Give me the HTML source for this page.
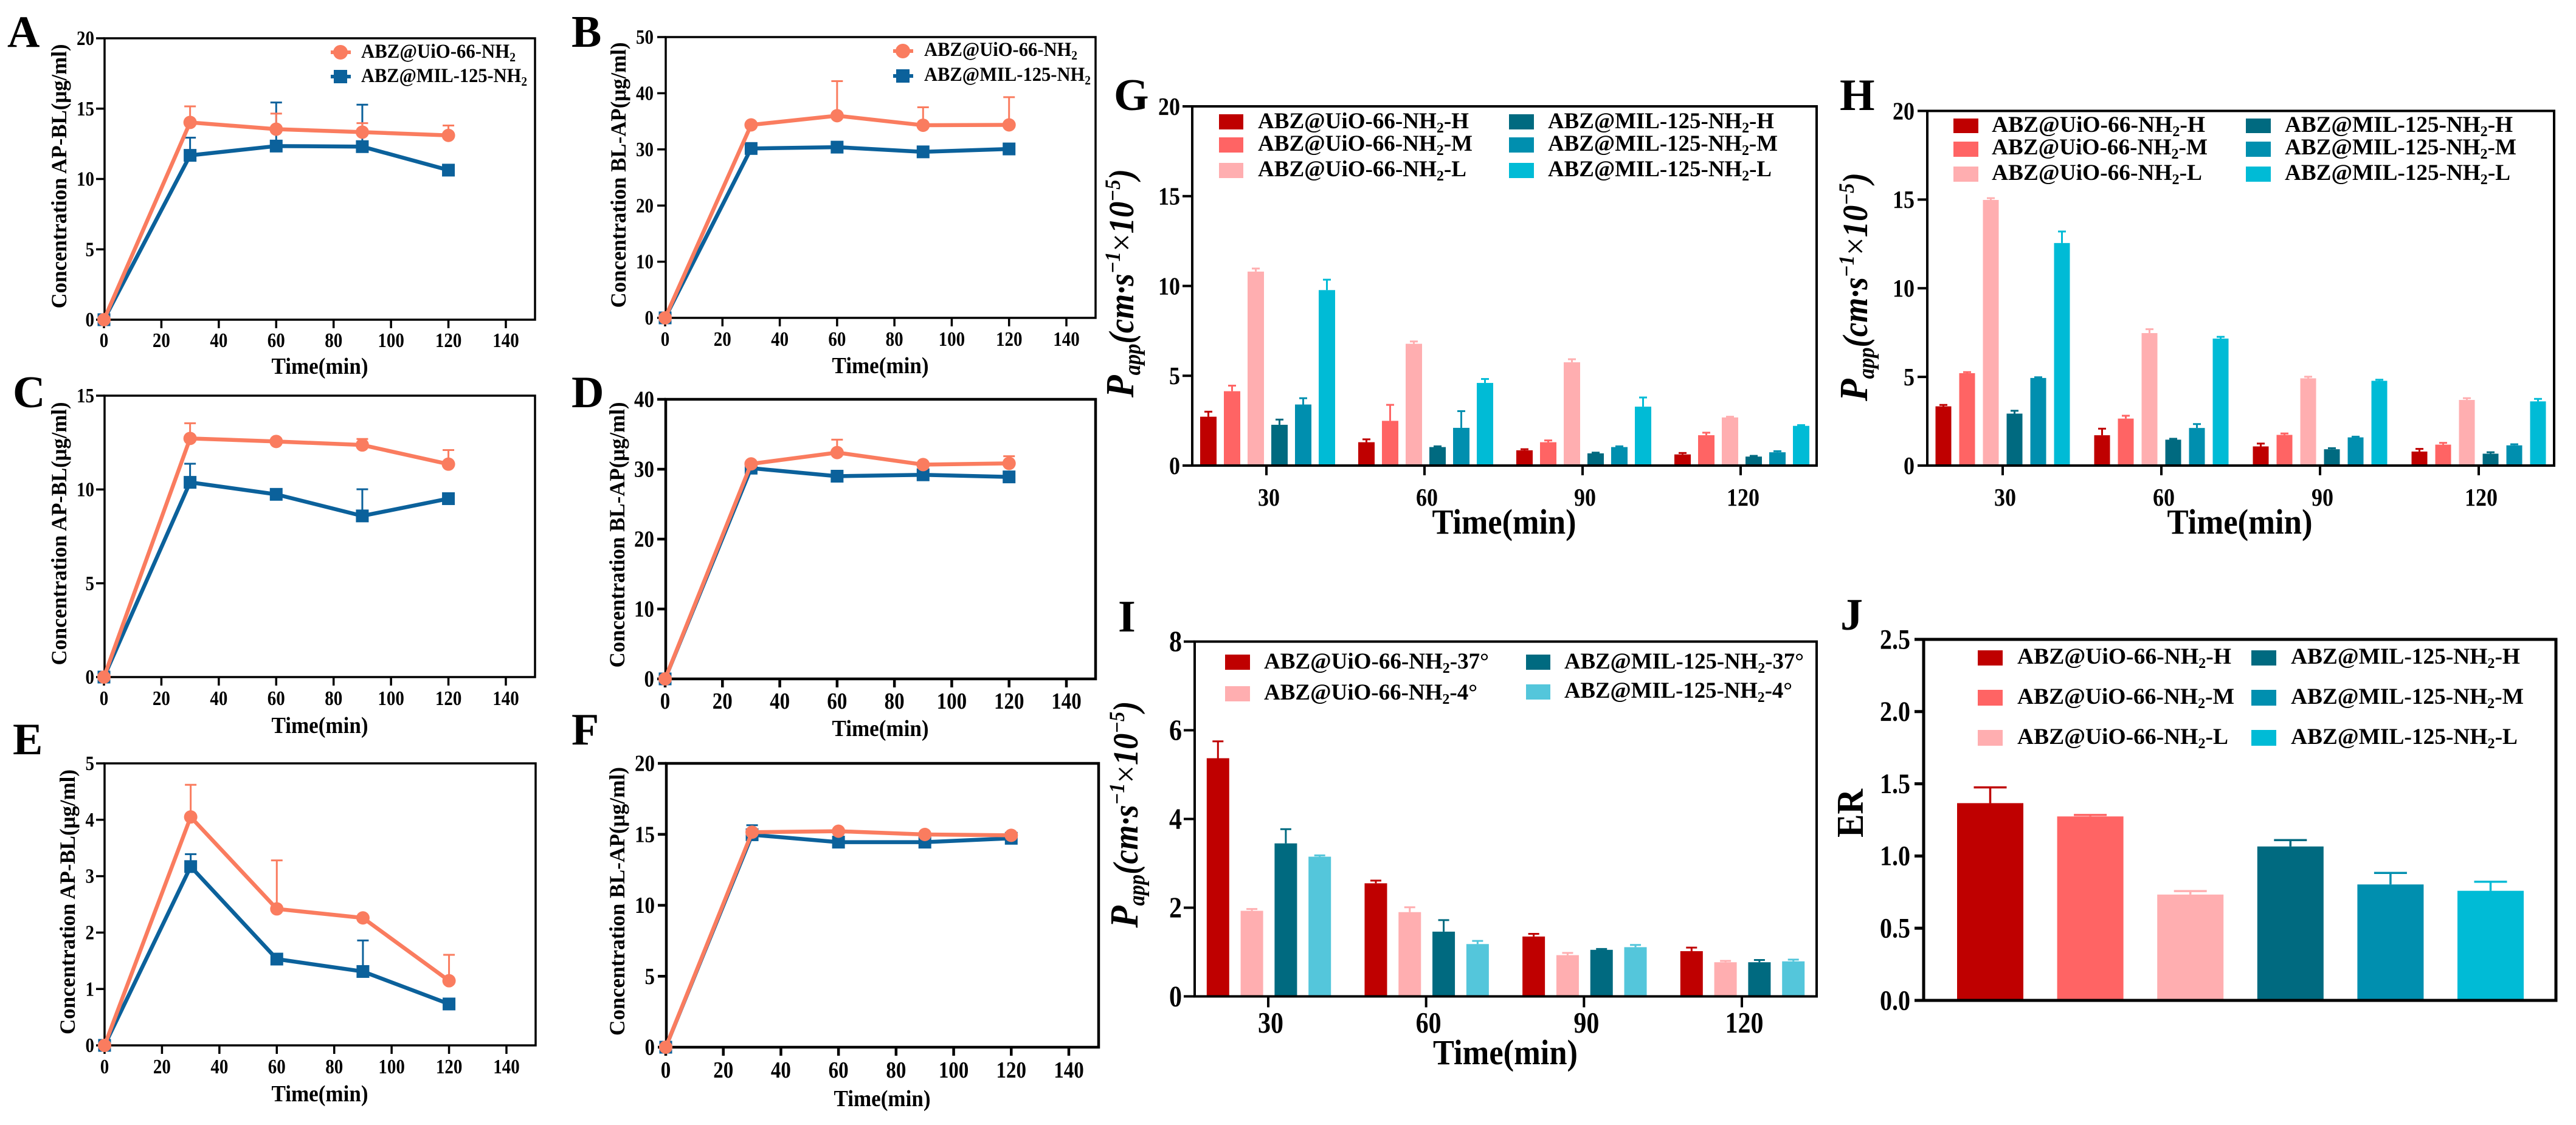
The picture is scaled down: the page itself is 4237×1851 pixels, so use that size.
<!DOCTYPE html>
<html lang="en">
<head>
<meta charset="utf-8">
<title>ABZ@UiO-66-NH2 and ABZ@MIL-125-NH2 transport charts</title>
<style>
html,body{margin:0;padding:0;background:#fff;}
svg{display:block;}
text{font-family:"Liberation Serif",serif;font-weight:bold;fill:#000;}
.it{font-style:italic;}
</style>
</head>
<body>
<svg id="figure" xmlns="http://www.w3.org/2000/svg" width="4237" height="1851" viewBox="0 0 4237 1851">
<rect x="0" y="0" width="4237" height="1851" fill="#fff"/>

<text x="12" y="77" font-size="74">A</text>
<text x="940" y="77" font-size="74">B</text>
<text x="21" y="670" font-size="74">C</text>
<text x="940" y="670" font-size="74">D</text>
<text x="21" y="1241" font-size="74">E</text>
<text x="940" y="1225" font-size="74">F</text>
<text x="1832" y="181" font-size="74">G</text>
<text x="3026" y="181" font-size="74">H</text>
<text x="1839" y="1039" font-size="74">I</text>
<text x="3027" y="1036" font-size="74">J</text>

<g id="panel-a"></g>
<g id="panel-b"></g>
<g id="panel-c"></g>
<g id="panel-d"></g>
<g id="panel-e"></g>
<g id="panel-f"></g>
<g id="panel-g"></g>
<g id="panel-h"></g>
<g id="panel-i"></g>
<g id="panel-j"></g>

<!-- axis titles: line panels -->
<text transform="translate(109,290) rotate(-90)" text-anchor="middle" font-size="36" textLength="435" lengthAdjust="spacingAndGlyphs">Concentration AP-BL(μg/ml)</text>
<text transform="translate(1029,288) rotate(-90)" text-anchor="middle" font-size="36" textLength="437" lengthAdjust="spacingAndGlyphs">Concentration BL-AP(μg/ml)</text>
<text transform="translate(109,878) rotate(-90)" text-anchor="middle" font-size="36" textLength="433" lengthAdjust="spacingAndGlyphs">Concentration AP-BL(μg/ml)</text>
<text transform="translate(1027,880) rotate(-90)" text-anchor="middle" font-size="36" textLength="437" lengthAdjust="spacingAndGlyphs">Concentration BL-AP(μg/ml)</text>
<text transform="translate(123,1484) rotate(-90)" text-anchor="middle" font-size="36" textLength="436" lengthAdjust="spacingAndGlyphs">Concentration AP-BL(μg/ml)</text>
<text transform="translate(1027,1483) rotate(-90)" text-anchor="middle" font-size="36" textLength="442" lengthAdjust="spacingAndGlyphs">Concentration BL-AP(μg/ml)</text>

<text x="526" y="615" text-anchor="middle" font-size="38" textLength="159" lengthAdjust="spacingAndGlyphs">Time(min)</text>
<text x="1448" y="614" text-anchor="middle" font-size="38" textLength="159" lengthAdjust="spacingAndGlyphs">Time(min)</text>
<text x="526" y="1206" text-anchor="middle" font-size="38" textLength="159" lengthAdjust="spacingAndGlyphs">Time(min)</text>
<text x="1448" y="1211" text-anchor="middle" font-size="38" textLength="159" lengthAdjust="spacingAndGlyphs">Time(min)</text>
<text x="526" y="1812" text-anchor="middle" font-size="38" textLength="159" lengthAdjust="spacingAndGlyphs">Time(min)</text>
<text x="1451" y="1820" text-anchor="middle" font-size="38" textLength="159" lengthAdjust="spacingAndGlyphs">Time(min)</text>

<!-- axis titles: bar panels -->
<text x="2474" y="878" text-anchor="middle" font-size="58" textLength="237" lengthAdjust="spacingAndGlyphs">Time(min)</text>
<text x="3684" y="878" text-anchor="middle" font-size="58" textLength="239" lengthAdjust="spacingAndGlyphs">Time(min)</text>
<text x="2476" y="1751" text-anchor="middle" font-size="58" textLength="238" lengthAdjust="spacingAndGlyphs">Time(min)</text>
<text transform="translate(3064,1338) rotate(-90)" text-anchor="middle" font-size="62" textLength="80" lengthAdjust="spacingAndGlyphs">ER</text>

<text class="it" transform="translate(1864,466) rotate(-90)" text-anchor="middle" font-size="58" textLength="376" lengthAdjust="spacingAndGlyphs"><tspan font-size="66">P</tspan><tspan font-size="38" dy="11">app</tspan><tspan dy="-11">(cm·s</tspan><tspan font-size="36" dy="-22">−1</tspan><tspan dy="22" style="font-style:normal;font-weight:normal">×</tspan><tspan>10</tspan><tspan font-size="36" dy="-22">−5</tspan><tspan dy="22">)</tspan></text>
<text class="it" transform="translate(3071,472) rotate(-90)" text-anchor="middle" font-size="58" textLength="376" lengthAdjust="spacingAndGlyphs"><tspan font-size="66">P</tspan><tspan font-size="38" dy="11">app</tspan><tspan dy="-11">(cm·s</tspan><tspan font-size="36" dy="-22">−1</tspan><tspan dy="22" style="font-style:normal;font-weight:normal">×</tspan><tspan>10</tspan><tspan font-size="36" dy="-22">−5</tspan><tspan dy="22">)</tspan></text>
<text class="it" transform="translate(1871,1340) rotate(-90)" text-anchor="middle" font-size="58" textLength="373" lengthAdjust="spacingAndGlyphs"><tspan font-size="66">P</tspan><tspan font-size="38" dy="11">app</tspan><tspan dy="-11">(cm·s</tspan><tspan font-size="36" dy="-22">−1</tspan><tspan dy="22" style="font-style:normal;font-weight:normal">×</tspan><tspan>10</tspan><tspan font-size="36" dy="-22">−5</tspan><tspan dy="22">)</tspan></text>

<!-- legends: line panels -->
<g>
  <line x1="544" x2="577" y1="86" y2="86" stroke="#FA7C5F" stroke-width="6"/>
  <circle cx="560" cy="86" r="12" fill="#FA7C5F"/>
  <text x="594" y="95" font-size="33" textLength="254" lengthAdjust="spacingAndGlyphs">ABZ@UiO-66-NH<tspan font-size="21" dy="6">2</tspan></text>
  <line x1="544" x2="577" y1="126" y2="126" stroke="#0B619B" stroke-width="6"/>
  <rect x="549" y="115" width="22" height="22" fill="#0B619B"/>
  <text x="594" y="135" font-size="33" textLength="273" lengthAdjust="spacingAndGlyphs">ABZ@MIL-125-NH<tspan font-size="21" dy="6">2</tspan></text>
</g>
<g>
  <line x1="1469" x2="1502" y1="84" y2="84" stroke="#FA7C5F" stroke-width="6"/>
  <circle cx="1485" cy="84" r="12" fill="#FA7C5F"/>
  <text x="1520" y="92" font-size="33" textLength="252" lengthAdjust="spacingAndGlyphs">ABZ@UiO-66-NH<tspan font-size="21" dy="6">2</tspan></text>
  <line x1="1469" x2="1502" y1="125" y2="125" stroke="#0B619B" stroke-width="6"/>
  <rect x="1474" y="114" width="22" height="22" fill="#0B619B"/>
  <text x="1520" y="133" font-size="33" textLength="274" lengthAdjust="spacingAndGlyphs">ABZ@MIL-125-NH<tspan font-size="21" dy="6">2</tspan></text>
</g>

<!-- legend: panel G -->
<g>
  <rect x="2005" y="188" width="40" height="25" fill="#BF0000"/>
  <text x="2069" y="211" font-size="37" textLength="347" lengthAdjust="spacingAndGlyphs">ABZ@UiO-66-NH<tspan font-size="24" dy="7">2</tspan><tspan dy="-7">-H</tspan></text>
  <rect x="2005" y="226" width="40" height="25" fill="#FF6464"/>
  <text x="2069" y="248" font-size="37" textLength="353" lengthAdjust="spacingAndGlyphs">ABZ@UiO-66-NH<tspan font-size="24" dy="7">2</tspan><tspan dy="-7">-M</tspan></text>
  <rect x="2005" y="268" width="40" height="25" fill="#FFAEB0"/>
  <text x="2069" y="290" font-size="37" textLength="343" lengthAdjust="spacingAndGlyphs">ABZ@UiO-66-NH<tspan font-size="24" dy="7">2</tspan><tspan dy="-7">-L</tspan></text>
  <rect x="2482" y="188" width="41" height="25" fill="#006A80"/>
  <text x="2546" y="211" font-size="37" textLength="372" lengthAdjust="spacingAndGlyphs">ABZ@MIL-125-NH<tspan font-size="24" dy="7">2</tspan><tspan dy="-7">-H</tspan></text>
  <rect x="2482" y="226" width="41" height="25" fill="#008FAF"/>
  <text x="2546" y="248" font-size="37" textLength="378" lengthAdjust="spacingAndGlyphs">ABZ@MIL-125-NH<tspan font-size="24" dy="7">2</tspan><tspan dy="-7">-M</tspan></text>
  <rect x="2482" y="268" width="41" height="25" fill="#00BBD6"/>
  <text x="2546" y="290" font-size="37" textLength="368" lengthAdjust="spacingAndGlyphs">ABZ@MIL-125-NH<tspan font-size="24" dy="7">2</tspan><tspan dy="-7">-L</tspan></text>
</g>

<!-- legend: panel H -->
<g>
  <rect x="3213" y="195" width="41" height="24" fill="#BF0000"/>
  <text x="3276" y="217" font-size="37" textLength="351" lengthAdjust="spacingAndGlyphs">ABZ@UiO-66-NH<tspan font-size="24" dy="7">2</tspan><tspan dy="-7">-H</tspan></text>
  <rect x="3213" y="233" width="41" height="25" fill="#FF6464"/>
  <text x="3276" y="254" font-size="37" textLength="355" lengthAdjust="spacingAndGlyphs">ABZ@UiO-66-NH<tspan font-size="24" dy="7">2</tspan><tspan dy="-7">-M</tspan></text>
  <rect x="3213" y="274" width="41" height="25" fill="#FFAEB0"/>
  <text x="3276" y="296" font-size="37" textLength="346" lengthAdjust="spacingAndGlyphs">ABZ@UiO-66-NH<tspan font-size="24" dy="7">2</tspan><tspan dy="-7">-L</tspan></text>
  <rect x="3694" y="195" width="41" height="24" fill="#006A80"/>
  <text x="3758" y="217" font-size="37" textLength="375" lengthAdjust="spacingAndGlyphs">ABZ@MIL-125-NH<tspan font-size="24" dy="7">2</tspan><tspan dy="-7">-H</tspan></text>
  <rect x="3694" y="233" width="41" height="25" fill="#008FAF"/>
  <text x="3758" y="254" font-size="37" textLength="381" lengthAdjust="spacingAndGlyphs">ABZ@MIL-125-NH<tspan font-size="24" dy="7">2</tspan><tspan dy="-7">-M</tspan></text>
  <rect x="3694" y="274" width="41" height="25" fill="#00BBD6"/>
  <text x="3758" y="296" font-size="37" textLength="371" lengthAdjust="spacingAndGlyphs">ABZ@MIL-125-NH<tspan font-size="24" dy="7">2</tspan><tspan dy="-7">-L</tspan></text>
</g>

<!-- legend: panel I -->
<g>
  <rect x="2015" y="1077" width="41" height="25" fill="#BF0000"/>
  <text x="2079" y="1100" font-size="37" textLength="370" lengthAdjust="spacingAndGlyphs">ABZ@UiO-66-NH<tspan font-size="24" dy="7">2</tspan><tspan dy="-7">-37°</tspan></text>
  <rect x="2015" y="1129" width="41" height="25" fill="#FFAEB0"/>
  <text x="2079" y="1151" font-size="37" textLength="351" lengthAdjust="spacingAndGlyphs">ABZ@UiO-66-NH<tspan font-size="24" dy="7">2</tspan><tspan dy="-7">-4°</tspan></text>
  <rect x="2510" y="1077" width="40" height="25" fill="#006A80"/>
  <text x="2573" y="1100" font-size="37" textLength="394" lengthAdjust="spacingAndGlyphs">ABZ@MIL-125-NH<tspan font-size="24" dy="7">2</tspan><tspan dy="-7">-37°</tspan></text>
  <rect x="2510" y="1126" width="40" height="25" fill="#54C6DB"/>
  <text x="2573" y="1148" font-size="37" textLength="375" lengthAdjust="spacingAndGlyphs">ABZ@MIL-125-NH<tspan font-size="24" dy="7">2</tspan><tspan dy="-7">-4°</tspan></text>
</g>

<!-- legend: panel J -->
<g>
  <rect x="3253" y="1070" width="41" height="25" fill="#BF0000"/>
  <text x="3318" y="1092" font-size="37" textLength="352" lengthAdjust="spacingAndGlyphs">ABZ@UiO-66-NH<tspan font-size="24" dy="7">2</tspan><tspan dy="-7">-H</tspan></text>
  <rect x="3253" y="1135" width="41" height="26" fill="#FF6464"/>
  <text x="3318" y="1158" font-size="37" textLength="357" lengthAdjust="spacingAndGlyphs">ABZ@UiO-66-NH<tspan font-size="24" dy="7">2</tspan><tspan dy="-7">-M</tspan></text>
  <rect x="3253" y="1201" width="41" height="26" fill="#FFAEB0"/>
  <text x="3318" y="1224" font-size="37" textLength="347" lengthAdjust="spacingAndGlyphs">ABZ@UiO-66-NH<tspan font-size="24" dy="7">2</tspan><tspan dy="-7">-L</tspan></text>
  <rect x="3703" y="1070" width="41" height="25" fill="#006A80"/>
  <text x="3768" y="1092" font-size="37" textLength="377" lengthAdjust="spacingAndGlyphs">ABZ@MIL-125-NH<tspan font-size="24" dy="7">2</tspan><tspan dy="-7">-H</tspan></text>
  <rect x="3703" y="1135" width="41" height="26" fill="#008FAF"/>
  <text x="3768" y="1158" font-size="37" textLength="383" lengthAdjust="spacingAndGlyphs">ABZ@MIL-125-NH<tspan font-size="24" dy="7">2</tspan><tspan dy="-7">-M</tspan></text>
  <rect x="3703" y="1201" width="41" height="26" fill="#00BBD6"/>
  <text x="3768" y="1224" font-size="37" textLength="373" lengthAdjust="spacingAndGlyphs">ABZ@MIL-125-NH<tspan font-size="24" dy="7">2</tspan><tspan dy="-7">-L</tspan></text>
</g>
</svg>

<script>
// ---------- shared axis values ----------
const lineTimes = [0, 30, 60, 90, 120];
const lineXTicks = [0, 20, 40, 60, 80, 100, 120, 140];
const barCategories = ['30', '60', '90', '120'];

// ---------- panel A ----------
const aYTicks = [0, 5, 10, 15, 20];
const aUio = [0, 14.02, 13.54, 13.33, 13.1];
const aUioErr = [0, 1.14, 1.11, 0.64, 0.7];
const aMil = [0, 11.68, 12.34, 12.3, 10.63];
const aMilErr = [0, 1.26, 3.1, 2.98, 0.05];
// ---------- panel B ----------
const bYTicks = [0, 10, 20, 30, 40, 50];
const bUio = [0, 34.36, 36, 34.3, 34.36];
const bUioErr = [0, 0.2, 6.16, 3.2, 4.94];
const bMil = [0, 30.16, 30.4, 29.56, 30.08];
const bMilErr = [0, 0.2, 0.2, 0.2, 0.2];
// ---------- panel C ----------
const cYTicks = [0, 5, 10, 15];
const cUio = [0, 12.72, 12.56, 12.37, 11.35];
const cUioErr = [0, 0.81, 0.14, 0.32, 0.75];
const cMil = [0, 10.38, 9.74, 8.59, 9.51];
const cMilErr = [0, 0.99, 0.16, 1.42, 0.09];
// ---------- panel D ----------
const dYTicks = [0, 10, 20, 30, 40];
const dUio = [0, 30.76, 32.38, 30.66, 30.83];
const dUioErr = [0, 0.24, 1.85, 0.14, 1.03];
const dMil = [0, 30.15, 29, 29.2, 28.9];
const dMilErr = [0, 0.15, 0.1, 0.2, 0.1];
// ---------- panel E ----------
const eYTicks = [0, 1, 2, 3, 4, 5];
const eUio = [0, 4.05, 2.42, 2.26, 1.146];
const eUioErr = [0, 0.57, 0.86, 0.04, 0.46];
const eMil = [0, 3.17, 1.53, 1.31, 0.734];
const eMilErr = [0, 0.22, 0.03, 0.55, 0.03];
// ---------- panel F ----------
const fYTicks = [0, 5, 10, 15, 20];
const fUio = [0, 15.15, 15.22, 14.99, 14.93];
const fUioErr = [0, 0.15, 0.08, 0.06, 0.07];
const fMil = [0, 14.97, 14.45, 14.45, 14.72];
const fMilErr = [0, 0.67, 0.05, 0.05, 0.08];

// ---------- panel G ----------
const gYTicks = [0, 5, 10, 15, 20];
const gUioH = [2.72, 1.3, 0.85, 0.62];
const gUioHErr = [0.28, 0.16, 0.06, 0.08];
const gUioM = [4.14, 2.49, 1.3, 1.69];
const gUioMErr = [0.31, 0.89, 0.1, 0.14];
const gUioL = [10.8, 6.78, 5.75, 2.68];
const gUioLErr = [0.17, 0.13, 0.17, 0.04];
const gMilH = [2.27, 1.03, 0.68, 0.5];
const gMilHErr = [0.29, 0.04, 0.04, 0.04];
const gMilM = [3.4, 2.1, 1.03, 0.74];
const gMilMErr = [0.35, 0.93, 0.04, 0.06];
const gMilL = [9.77, 4.6, 3.28, 2.21];
const gMilLErr = [0.58, 0.22, 0.51, 0.04];

// ---------- panel H ----------
const hYTicks = [0, 5, 10, 15, 20];
const hUioH = [3.34, 1.71, 1.08, 0.79];
const hUioHErr = [0.08, 0.37, 0.16, 0.15];
const hUioM = [5.21, 2.65, 1.73, 1.18];
const hUioMErr = [0.06, 0.16, 0.08, 0.1];
const hUioL = [14.98, 7.47, 4.92, 3.7];
const hUioLErr = [0.1, 0.22, 0.09, 0.1];
const hMilH = [2.93, 1.46, 0.92, 0.67];
const hMilHErr = [0.16, 0.05, 0.06, 0.08];
const hMilM = [4.94, 2.12, 1.59, 1.14];
const hMilMErr = [0.04, 0.22, 0.04, 0.06];
const hMilL = [12.55, 7.16, 4.78, 3.62];
const hMilLErr = [0.65, 0.1, 0.06, 0.14];

// ---------- panel I ----------
const iYTicks = [0, 2, 4, 6, 8];
const iUio37 = [5.37, 2.55, 1.35, 1.02];
const iUio37Err = [0.38, 0.06, 0.06, 0.08];
const iUio4 = [1.93, 1.9, 0.93, 0.77];
const iUio4Err = [0.04, 0.11, 0.05, 0.03];
const iMil37 = [3.45, 1.46, 1.05, 0.77];
const iMil37Err = [0.32, 0.26, 0.02, 0.05];
const iMil4 = [3.15, 1.18, 1.11, 0.79];
const iMil4Err = [0.03, 0.07, 0.05, 0.04];

// ---------- panel J ----------
const jYTicks = ['0.0', '0.5', '1.0', '1.5', '2.0', '2.5'];
const jGroups = ['UiO-H', 'UiO-M', 'UiO-L', 'MIL-H', 'MIL-M', 'MIL-L'];
const jValues = [1.366, 1.274, 0.733, 1.066, 0.803, 0.759];
const jErrors = [0.109, 0.01, 0.024, 0.044, 0.08, 0.063];

const NS = 'http://www.w3.org/2000/svg';
const UIO = '#FA7C5F';
const MIL = '#0B619B';
const SIX = ['#BF0000', '#FF6464', '#FFAEB0', '#006A80', '#008FAF', '#00BBD6'];
const FOUR = ['#BF0000', '#FFAEB0', '#006A80', '#54C6DB'];
const TALL = 1.16;

function svgEl(tag, attrs, parent) {
  const el = document.createElementNS(NS, tag);
  for (const k in attrs) el.setAttribute(k, attrs[k]);
  parent.appendChild(el);
  return el;
}

function linearScale(d0, d1, r0, r1) {
  return function (v) { return r0 + (v - d0) / (d1 - d0) * (r1 - r0); };
}

function labelWidth(label, font) {
  let em = 0;
  for (const ch of label) em += (ch === '.') ? 0.25 : 0.5;
  return em * font;
}

function drawFrame(g, b) {
  const frame = svgEl('rect', {x: b.left, y: b.top, width: b.right - b.left, height: b.bottom - b.top, fill: 'none', stroke: '#000', 'stroke-width': b.stroke}, g);
  
  
}

function drawYAxis(g, b, labels, yScale) {
  labels.forEach(function (lab) {
    const v = Number(lab);
    const y = yScale(v);
    const tick = svgEl('line', {x1: b.left - b.tick, x2: b.left, y1: y, y2: y, stroke: '#000', 'stroke-width': b.stroke}, g);
    
    
    const t = svgEl('text', {x: b.yLabelX, y: y + b.font * TALL * 0.33, 'text-anchor': 'end', 'font-size': b.font * TALL, textLength: labelWidth(lab, b.font), lengthAdjust: 'spacingAndGlyphs'}, g);
    t.textContent = lab;
    
    
  });
}

function drawXTick(g, b, x, label, labelDx) {
  const tick = svgEl('line', {x1: x, x2: x, y1: b.bottom, y2: b.bottom + b.tick, stroke: '#000', 'stroke-width': b.stroke}, g);
  
  
  const t = svgEl('text', {x: x + labelDx, y: b.xLabelY, 'text-anchor': 'middle', 'font-size': b.font * TALL, textLength: labelWidth(label, b.font), lengthAdjust: 'spacingAndGlyphs'}, g);
  t.textContent = label;
  
  
}

function drawErrorBar(g, x, yLow, yHigh, cap, color, width) {
  const stem = svgEl('line', {x1: x, x2: x, y1: yLow, y2: yHigh, stroke: color, 'stroke-width': width}, g);
  
  
  const top = svgEl('line', {x1: x - cap / 2, x2: x + cap / 2, y1: yHigh, y2: yHigh, stroke: color, 'stroke-width': width}, g);
  
  
}

function drawLineSeries(g, name, color, values, errors, xScale, yScale, marker) {
  const pts = values.map(function (v, i) { return xScale(lineTimes[i]) + ',' + yScale(v); }).join(' ');
  values.forEach(function (v, i) {
    if (i > 0) drawErrorBar(g, xScale(lineTimes[i]), yScale(v), yScale(v + errors[i]), 19, color, 3);
  });
  const line = svgEl('polyline', {points: pts, fill: 'none', stroke: color, 'stroke-width': 6.5, 'stroke-linejoin': 'round'}, g);
  
  
  values.forEach(function (v, i) {
    const cx = xScale(lineTimes[i]);
    const cy = yScale(v);
    let m;
    if (marker === 'circle') {
      m = svgEl('ellipse', {cx: cx, cy: cy, rx: 11, ry: 11, fill: color}, g);
    } else {
      m = svgEl('rect', {x: cx - 10.5, y: cy - 10.5, width: 21, height: 21, fill: color}, g);
    }
    
    
  });
}

function drawLinePanel(id, b, yTicks, uio, uioErr, mil, milErr) {
  const g = document.getElementById(id);
  const xScale = linearScale(0, 140, b.x0, b.x140);
  const yScale = linearScale(0, yTicks[yTicks.length - 1], b.bottom, b.top);
  drawFrame(g, b);
  drawYAxis(g, b, yTicks.map(String), yScale);
  lineXTicks.forEach(function (v) { drawXTick(g, b, xScale(v), String(v), 0); });
  drawLineSeries(g, 'mil-125-series', MIL, mil, milErr, xScale, yScale, 'square');
  drawLineSeries(g, 'uio-66-series', UIO, uio, uioErr, xScale, yScale, 'circle');
}

function drawGroupedBars(id, b, yTicks, series, errors, colors) {
  const g = document.getElementById(id);
  const yScale = linearScale(0, yTicks[yTicks.length - 1], b.bottom, b.top);
  const catX = linearScale(0, barCategories.length - 1, b.firstTick, b.lastTick);
  const n = series.length;
  barCategories.forEach(function (cat, c) {
    series.forEach(function (vals, s) {
      const cx = catX(c) + b.barShift + (s - (n - 1) / 2) * b.barStep;
      const top = yScale(vals[c]);
      drawErrorBar(g, cx, top, yScale(vals[c] + errors[s][c]), b.cap, colors[s], 3);
      const bar = svgEl('rect', {x: cx - b.barW / 2, y: top, width: b.barW, height: b.bottom - top, fill: colors[s]}, g);
      
      
    });
  });
  drawFrame(g, b);
  drawYAxis(g, b, yTicks.map(String), yScale);
  barCategories.forEach(function (cat, c) { drawXTick(g, b, catX(c), cat, 4); });
}

function drawPanelJ() {
  const b = {left: 3164, right: 4204, top: 1052, bottom: 1646, stroke: 5, tick: 15, yLabelX: 3142, font: 40};
  const g = document.getElementById('panel-j');
  const yScale = linearScale(0, 2.5, b.bottom, b.top);
  const xScale = linearScale(0, jGroups.length - 1, 3273.5, 4096.5);
  jGroups.forEach(function (grp, i) {
    const cx = xScale(i);
    const top = yScale(jValues[i]);
    drawErrorBar(g, cx, top, yScale(jValues[i] + jErrors[i]), 54, SIX[i], 3.5);
    const bar = svgEl('rect', {x: cx - 54.5, y: top, width: 109, height: b.bottom - top, fill: SIX[i]}, g);
    
    
  });
  drawFrame(g, b);
  drawYAxis(g, b, jYTicks, yScale);
}

drawLinePanel('panel-a', {left: 172, right: 880, top: 63, bottom: 526, x0: 171, x140: 832, stroke: 3.5, tick: 14, yLabelX: 155, xLabelY: 571, font: 29}, aYTicks, aUio, aUioErr, aMil, aMilErr);
drawLinePanel('panel-b', {left: 1095, right: 1802, top: 61, bottom: 523, x0: 1094, x140: 1754, stroke: 3.5, tick: 14, yLabelX: 1075, xLabelY: 569, font: 29}, bYTicks, bUio, bUioErr, bMil, bMilErr);
drawLinePanel('panel-c', {left: 172, right: 880, top: 651, bottom: 1114, x0: 171, x140: 832, stroke: 3.5, tick: 14, yLabelX: 155, xLabelY: 1160, font: 29}, cYTicks, cUio, cUioErr, cMil, cMilErr);
drawLinePanel('panel-d', {left: 1095, right: 1802, top: 657, bottom: 1117, x0: 1094, x140: 1754, stroke: 4.5, tick: 14, yLabelX: 1076, xLabelY: 1166, font: 33}, dYTicks, dUio, dUioErr, dMil, dMilErr);
drawLinePanel('panel-e', {left: 172, right: 881, top: 1256, bottom: 1720, x0: 172, x140: 833, stroke: 3.5, tick: 14, yLabelX: 155, xLabelY: 1766, font: 29}, eYTicks, eUio, eUioErr, eMil, eMilErr);
drawLinePanel('panel-f', {left: 1096, right: 1807, top: 1256, bottom: 1723, x0: 1095, x140: 1758, stroke: 4.5, tick: 14, yLabelX: 1077, xLabelY: 1773, font: 33}, fYTicks, fUio, fUioErr, fMil, fMilErr);

drawGroupedBars('panel-g', {left: 1961, right: 2988, top: 175, bottom: 766, stroke: 4, tick: 16, yLabelX: 1941, xLabelY: 832, font: 36, firstTick: 2083, lastTick: 2863, barShift: 2, barStep: 39, barW: 27, cap: 13}, gYTicks, [gUioH, gUioM, gUioL, gMilH, gMilM, gMilL], [gUioHErr, gUioMErr, gUioLErr, gMilHErr, gMilMErr, gMilLErr], SIX);
drawGroupedBars('panel-h', {left: 3170, right: 4201, top: 182.5, bottom: 766, stroke: 4, tick: 16, yLabelX: 3149, xLabelY: 832, font: 36, firstTick: 3294, lastTick: 4077, barShift: 0, barStep: 39, barW: 26, cap: 13}, hYTicks, [hUioH, hUioM, hUioL, hMilH, hMilM, hMilL], [hUioHErr, hUioMErr, hUioLErr, hMilHErr, hMilMErr, hMilLErr], SIX);
drawGroupedBars('panel-i', {left: 1965, right: 2988, top: 1055.6, bottom: 1639.4, stroke: 4, tick: 18, yLabelX: 1944, xLabelY: 1699, font: 42, firstTick: 2086, lastTick: 2865, barShift: 1, barStep: 55.8, barW: 37, cap: 18}, iYTicks, [iUio37, iUio4, iMil37, iMil4], [iUio37Err, iUio4Err, iMil37Err, iMil4Err], FOUR);
drawPanelJ();
</script>
</body>
</html>
